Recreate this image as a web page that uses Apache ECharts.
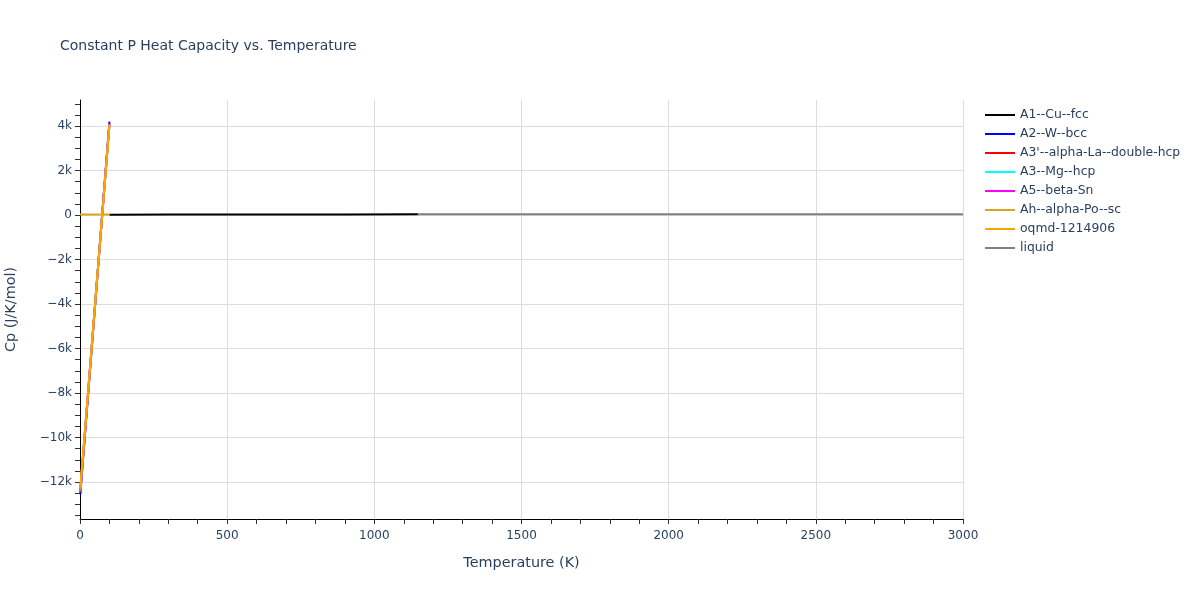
<!DOCTYPE html>
<html>
<head>
<meta charset="utf-8">
<script src="https://cdn.jsdelivr.net/npm/echarts@6/dist/echarts.min.js"></script>
<style>html,body{margin:0;padding:0;background:#fff}#c{width:1200px;height:600px}</style>
</head>
<body>
<div id="c"></div>
<script>
var seriesNames = ["A1--Cu--fcc","A2--W--bcc","A3'--alpha-La--double-hcp","A3--Mg--hcp","A5--beta-Sn","Ah--alpha-Po--sc","oqmd-1214906","liquid"];
var seriesColors = ["#000000","#0000ff","#ff0000","#00ffff","#ff00ff","#daa520","#ffa500","#808080"];

var dataA1 = [[100,16],[300,24.4],[600,26.5],[900,28.6],[1148,30.5]];
var dataA2 = [[1,-12550],[100,4200]];
var dataA3p = [[1,-12450],[100,4120]];
var dataA3 = [[1,-12400],[100,4100]];
var dataA5 = [[1,-12350],[100,4080]];
var dataAh = [[0,22],[100,22],['-','-'],[1,-12300],[100,4050]];
var dataOqmd = [[1,-12300],[100,4050]];
var dataLiquid = [[1148,40],[1500,38],[1800,36],[2400,34],[3000,33]];

var yLabelTicks = [-12000,-10000,-8000,-6000,-4000,-2000,0,2000,4000];
var yMinorTicks = [];
for (var v = -13500; v <= 5000; v += 500) yMinorTicks.push(v);

var allData = [dataA1,dataA2,dataA3p,dataA3,dataA5,dataAh,dataOqmd,dataLiquid];

function fmtY(v){
  if (v === 0) return '0';
  return (v < 0 ? '\u2212' : '') + Math.abs(v/1000) + 'k';
}

var chart = echarts.init(document.getElementById('c'));
var font = '"DejaVu Sans", verdana, sans-serif';
var txt = '#2a3f5f';
var yMin = -13660, yMax = 5170;
chart.setOption({
  animation: false,
  backgroundColor: '#fff',
  title: {
    text: 'Constant P Heat Capacity vs. Temperature',
    left: 55, top: 34,
    textStyle: {fontFamily: font, fontSize: 14, fontWeight: 'normal', color: txt}
  },
  legend: {
    orient: 'vertical',
    left: 980, top: 104,
    itemWidth: 30, itemHeight: 2, itemGap: 7,
    icon: 'rect',
    data: seriesNames,
    textStyle: {fontFamily: font, fontSize: 12.4, color: txt}
  },
  grid: {left: 80, right: 237, top: 100, bottom: 81, containLabel: false, outerBoundsMode: 'none'},
  xAxis: {
    type: 'value', min: 0, max: 3000, interval: 500,
    name: 'Temperature (K)', nameLocation: 'middle', nameGap: 37,
    nameTextStyle: {fontFamily: font, fontSize: 14.4, color: txt},
    axisLine: {show: true, onZero: false, lineStyle: {color: '#000', width: 1}},
    axisTick: {show: true, length: 5, lineStyle: {color: '#333'}},
    minorTick: {show: true, splitNumber: 5, length: 5, lineStyle: {color: '#333'}},
    axisLabel: {fontFamily: font, fontSize: 12, color: txt, margin: 11, formatter: function(v){return String(v);}},
    splitLine: {show: true, lineStyle: {color: '#dcdcdc', width: 1}}
  },
  yAxis: [{
    type: 'value', min: yMin, max: yMax,
    name: 'Cp (J/K/mol)', nameLocation: 'middle', nameGap: 62,
    nameTextStyle: {fontFamily: font, fontSize: 14.4, color: txt},
    axisLine: {show: true, onZero: false, lineStyle: {color: '#000', width: 1}},
    axisTick: {show: true, length: 5, customValues: yLabelTicks, lineStyle: {color: '#333'}},
    axisLabel: {fontFamily: font, fontSize: 12, color: txt, margin: 8, customValues: yLabelTicks, formatter: fmtY},
    splitLine: {show: true, lineStyle: {color: '#dcdcdc', width: 1}}
  }, {
    type: 'value', min: yMin, max: yMax, position: 'left', offset: 0,
    axisLine: {show: false, onZero: false},
    axisTick: {show: true, length: 5, customValues: yMinorTicks, lineStyle: {color: '#333'}},
    axisLabel: {show: false, customValues: yMinorTicks},
    splitLine: {show: false}
  }],
  series: seriesNames.map(function(n, i){
    return {
      name: n, type: 'line', data: allData[i], yAxisIndex: 0,
      showSymbol: false, symbol: 'none', connectNulls: false,
      lineStyle: {color: seriesColors[i], width: 2},
      itemStyle: {color: seriesColors[i]},
      z: 2 + i
    };
  })
});
</script>
</body>
</html>
